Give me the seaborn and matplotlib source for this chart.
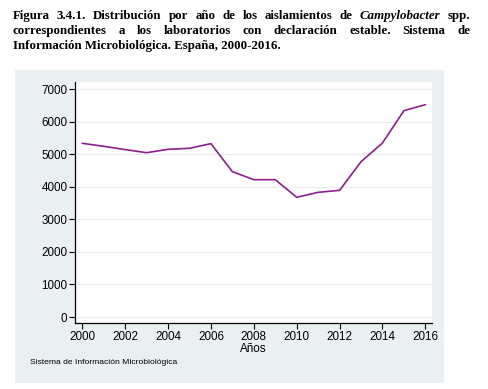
import matplotlib
matplotlib.use("Agg")
import matplotlib.pyplot as plt
import seaborn as sns
import numpy as np
from matplotlib.patches import Rectangle

years = [2000, 2001, 2002, 2003, 2004, 2005, 2006, 2007, 2008,
         2009, 2010, 2011, 2012, 2013, 2014, 2015, 2016]
aislamientos = [5333, 5240, 5140, 5045, 5148, 5180, 5322, 4462, 4216,
                4216, 3675, 3828, 3889, 4769, 5342, 6335, 6519]
yticks = [0, 1000, 2000, 3000, 4000, 5000, 6000, 7000]
xticks = [2000, 2002, 2004, 2006, 2008, 2010, 2012, 2014, 2016]

title_lines = [
    [("Figura", "normal"), ("3.4.1.", "normal"), ("Distribución", "normal"), ("por", "normal"),
     ("año", "normal"), ("de", "normal"), ("los", "normal"), ("aislamientos", "normal"),
     ("de", "normal"), ("Campylobacter", "italic"), ("spp.", "normal")],
    [("correspondientes", "normal"), ("a", "normal"), ("los", "normal"), ("laboratorios", "normal"),
     ("con", "normal"), ("declaración", "normal"), ("estable.", "normal"), ("Sistema", "normal"),
     ("de", "normal")],
    [("Información Microbiológica. España, 2000-2016.", "normal")],
]

W, H = 488, 389
sns.set_theme(style="white")
plt.rcParams['font.family'] = ['Liberation Sans', 'DejaVu Sans']

fig = plt.figure(figsize=(W / 100, H / 100), dpi=100)
fig.patch.set_facecolor("white")

# Stata-like graph region
fig.patches.append(Rectangle((15 / W, 1 - 383 / H), (444 - 15) / W, (383 - 70) / H,
                             transform=fig.transFigure, facecolor="#eaeff1",
                             edgecolor="none", zorder=-5))

ax = fig.add_axes([75 / W, 1 - 323 / H, (432 - 75) / W, (323 - 82) / H])
ax.set_zorder(2)
ax.set_facecolor("white")
sns.lineplot(x=years, y=aislamientos, color="#8c1f8c", linewidth=1.2, ax=ax)

ax.set_xlim(1999.66, 2016.31)
ax.set_ylim(-184, 7215)
ax.set_yticks(yticks)
ax.set_xticks(xticks)
ax.set_yticklabels([str(v) for v in yticks])
ax.set_xticklabels([str(v) for v in xticks])
ax.tick_params(axis="both", which="major", labelsize=8.4, length=4, width=0.8,
               color="black", pad=1.5, direction="out", left=True, bottom=True,
               labelcolor="black")
ax.yaxis.grid(True, color="#e9eced", linewidth=0.9)
ax.xaxis.grid(False)
for side in ["top", "right"]:
    ax.spines[side].set_visible(False)
for side in ["left", "bottom"]:
    ax.spines[side].set_color("black")
    ax.spines[side].set_linewidth(0.9)
ax.set_xlabel("Años", fontsize=8.4, color="black", labelpad=0.5)
ax.set_ylabel("")

fig.text(30.5 / W, 1 - 363 / H, "Sistema de Información Microbiológica",
         fontsize=6.1, color="black", va="center", ha="left", zorder=3)

# justified bold serif caption
renderer = fig.canvas.get_renderer()
x_left, x_right = 12.7, 470
baselines = [19, 34, 48.5]
for i, words in enumerate(title_lines):
    texts = []
    for w, st in words:
        t = fig.text(0, 1 - baselines[i] / H, w, fontsize=9.3, fontweight="bold",
                     fontstyle=st, family=["Liberation Serif", "DejaVu Serif"],
                     va="baseline", ha="left", color="black")
        texts.append(t)
    widths = [t.get_window_extent(renderer).width for t in texts]
    if i < len(title_lines) - 1 and len(texts) > 1:
        gap = (x_right - x_left - sum(widths)) / (len(texts) - 1)
    else:
        gap = 0
    x = x_left
    for t, wd in zip(texts, widths):
        t.set_x(x / W)
        x += wd + gap

fig.savefig("out.png", dpi=100, facecolor="white")
